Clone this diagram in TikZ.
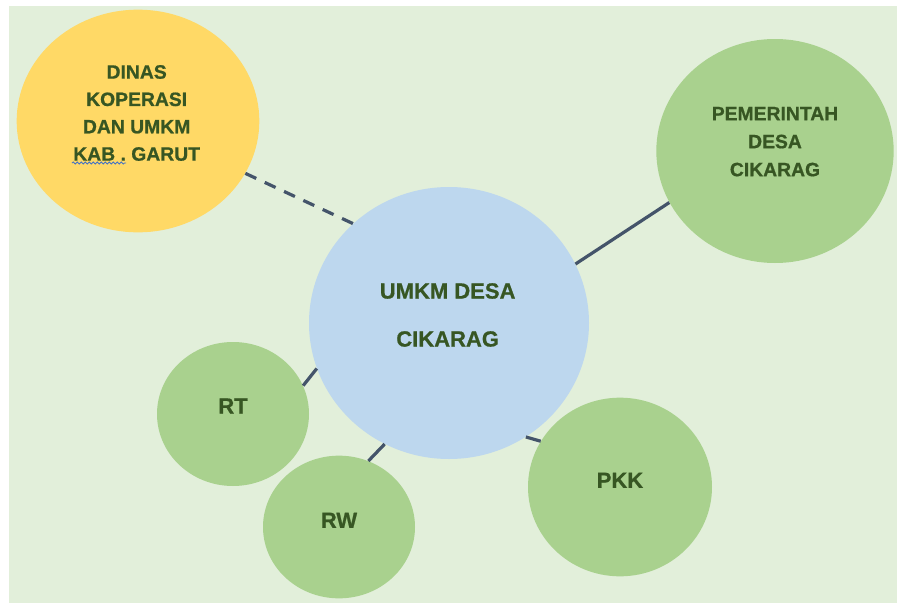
\documentclass[tikz,border=0pt]{standalone}
\usepackage{fontspec}
\setmainfont{Liberation Sans}[BoldFeatures={FakeBold=0.8}]
\usepackage{tikz}
\usetikzlibrary{shapes.geometric, positioning, decorations.pathmorphing}

\definecolor{bggreen}{HTML}{E2EFDA}
\definecolor{sungold}{HTML}{FFD966}
\definecolor{leafgreen}{HTML}{A9D18E}
\definecolor{skyblue}{HTML}{BDD7EE}
\definecolor{darkleaf}{HTML}{375623}
\definecolor{slateline}{HTML}{44546A}
\definecolor{spellblue}{HTML}{4472C4}

\begin{document}
\begin{tikzpicture}[x=0.75pt, y=-0.75pt,
    blob/.style={ellipse, draw=none, inner sep=0pt},
    lbl/.style={align=center, text=darkleaf, font=\fontsize{#1}{20.5}\selectfont\bfseries},
    link/.style={draw=slateline, line width=2.4pt},
    dashlink/.style={link, dash pattern=on 9pt off 7pt}]

    \useasboundingbox (0,0) rectangle (897,603);
    \fill[bggreen] (9,6) rectangle (897,603);

    % pusat
    \node (umkm) [blob, fill=skyblue, minimum width=210pt, minimum height=204pt] at (449,323) {};
    \node (umkmtxt) [lbl=16.5, font=\fontsize{16.5}{36}\selectfont\bfseries, xshift=-1pt, yshift=6pt] at (umkm)
        {UMKM DESA\\CIKARAG};

    % mitra
    \node (dinas) [blob, fill=sungold, minimum width=182pt, minimum height=167pt] at (138,121) {};
    \node (dinastxt) [lbl=14.5, xshift=-1pt, yshift=6pt] at (dinas)
        {DINAS\\KOPERASI\\DAN UMKM\\KAB . GARUT};
    \node (pemdes) [blob, fill=leafgreen, minimum width=178pt, minimum height=168pt] at (775,151) {};
    \node (pemdestxt) [lbl=14.5, font=\fontsize{14.5}{21}\selectfont\bfseries, yshift=7pt] at (pemdes)
        {PEMERINTAH\\DESA\\CIKARAG};
    \node (rt) [blob, fill=leafgreen, minimum width=114pt, minimum height=108pt] at (233,414) {};
    \node (rttxt) [lbl=16.5, yshift=6pt] at (rt) {RT};
    \node (rw) [blob, fill=leafgreen, minimum width=114pt, minimum height=107pt] at (339,527) {};
    \node (rwtxt) [lbl=16.5, yshift=5pt] at (rw) {RW};
    \node (pkk) [blob, fill=leafgreen, minimum width=138pt, minimum height=134pt] at (620,487) {};
    \node (pkktxt) [lbl=16.5, yshift=5pt] at (pkk) {PKK};

    % garis hubungan
    \draw[dashlink] (dinas.-26) -- (umkm.134);
    \draw[link] (pemdes.-154) -- (umkm.25);
    \draw[link] (rt.22) -- (umkm.199);
    \draw[link] (rw.66) -- (umkm.-118);
    \draw[link] (pkk.150) -- (umkm.-56);

    % garis ejaan di bawah KAB
    \draw[spellblue, line width=0.6pt, decorate, decoration={snake, amplitude=0.8pt, segment length=3pt}]
        (72,163) -- (126,163);

\end{tikzpicture}
\end{document}
